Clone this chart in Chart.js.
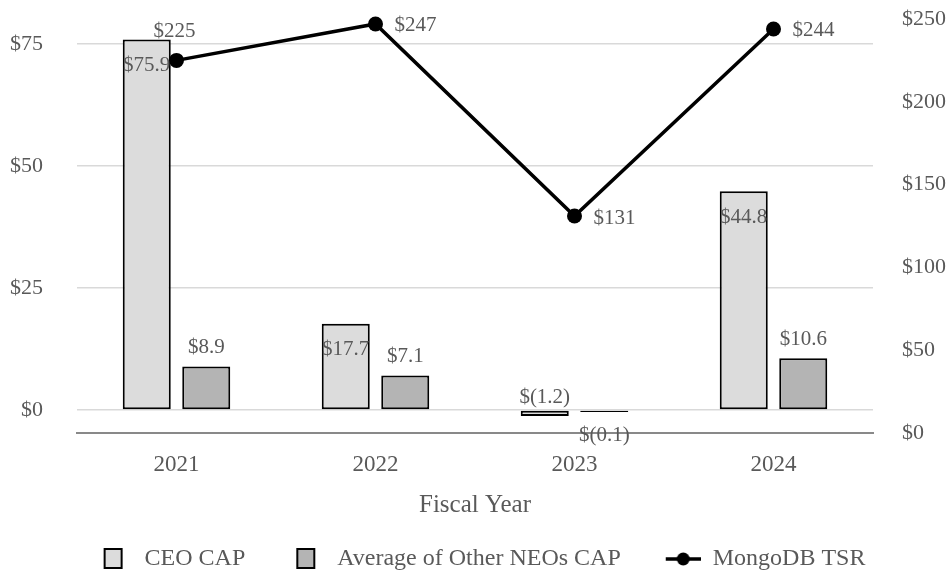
<!DOCTYPE html>
<html>
<head>
<meta charset="utf-8">
<script src="https://cdn.jsdelivr.net/npm/chart.js@4.4.1/dist/chart.umd.min.js"></script>
<style>
  html, body { margin: 0; padding: 0; background: #fff; }
</style>
</head>
<body>
<canvas id="chart" width="952" height="578"></canvas>
<script>
// data
const years = ['2021', '2022', '2023', '2024'];
const ceoCap = [75.9, 17.7, -1.2, 44.8];
const neoCap = [8.9, 7.1, -0.1, 10.6];
const tsr = [225, 247, 131, 244];
const leftTicks = [0, 25, 50, 75];
const rightTicks = [0, 50, 100, 150, 200, 250];
// where each TSR label sits relative to its point
const tsrLabelSide = ['top', 'right', 'right', 'right'];

const FONT = '"Liberation Serif", "Times New Roman", serif';
const TEXT = '#595959';

Chart.defaults.font.family = FONT;
Chart.defaults.font.size = 22;
Chart.defaults.color = TEXT;

function money(v, digits) {
    const s = Math.abs(v).toFixed(digits);
    return v < 0 ? '$(' + s + ')' : '$' + s;
}

// legend swatches, each one the full slot wide
function legendBox(fill) {
    const c = document.createElement('canvas');
    c.width = 56; c.height = 24;
    const g = c.getContext('2d');
    g.fillStyle = fill;
    g.fillRect(28, 2, 17, 19);
    g.strokeStyle = '#000';
    g.lineWidth = 2;
    g.strokeRect(28, 2, 17, 19);
    return c;
}
function legendLine() {
    const c = document.createElement('canvas');
    c.width = 56; c.height = 24;
    const g = c.getContext('2d');
    g.strokeStyle = '#000';
    g.lineWidth = 3.5;
    g.beginPath();
    g.moveTo(21, 12);
    g.lineTo(56, 12);
    g.stroke();
    g.fillStyle = '#000';
    g.beginPath();
    g.arc(38.5, 12, 6.5, 0, Math.PI * 2);
    g.fill();
    return c;
}
const swatches = [legendBox('#dcdcdc'), legendBox('#b4b4b4'), legendLine()];

const valueLabels = {
    id: 'valueLabels',
    afterLayout(chart) {
        // nudge the legend a little left, as in the picture
        chart.legend.left -= 5;
        chart.legend.right -= 5;
    },
    afterDatasetsDraw(chart) {
        const ctx = chart.ctx;
        ctx.save();
        ctx.font = '21px ' + FONT;
        ctx.fillStyle = TEXT;
        ctx.textBaseline = 'middle';
        ctx.textAlign = 'center';

        chart.getDatasetMeta(0).data.forEach((el, i) => {
            const v = ceoCap[i];
            const y = v >= 0 ? el.y + 26 : el.base - 13;
            ctx.fillText(money(v, 1), el.x, y);
        });
        chart.getDatasetMeta(1).data.forEach((el, i) => {
            const v = neoCap[i];
            const y = v >= 0 ? el.y - 19 : el.base + 25;
            ctx.fillText(money(v, 1), el.x, y);
        });
        chart.getDatasetMeta(2).data.forEach((el, i) => {
            const txt = money(tsr[i], 0);
            if (tsrLabelSide[i] === 'top') {
                ctx.textAlign = 'center';
                ctx.fillText(txt, el.x - 2, el.y - 29);
            } else {
                ctx.textAlign = 'left';
                ctx.fillText(txt, el.x + 19, el.y + 2);
            }
        });
        ctx.restore();
    }
};

const ctx = document.getElementById('chart').getContext('2d');

new Chart(ctx, {
    type: 'bar',
    data: {
        labels: years,
        datasets: [
            {
                label: 'CEO CAP',
                data: ceoCap,
                backgroundColor: '#dcdcdc',
                borderColor: '#000',
                borderWidth: 2,
                borderSkipped: false,
                yAxisID: 'y'
            },
            {
                label: 'Average of Other NEOs CAP',
                data: neoCap,
                backgroundColor: '#b4b4b4',
                borderColor: '#000',
                borderWidth: 2,
                borderSkipped: false,
                minBarLength: 2,
                yAxisID: 'y'
            },
            {
                type: 'line',
                label: 'MongoDB TSR',
                data: tsr,
                borderColor: '#000',
                backgroundColor: '#000',
                borderWidth: 3.5,
                pointRadius: 7.5,
                pointBackgroundColor: '#000',
                pointBorderWidth: 0,
                tension: 0,
                clip: false,
                yAxisID: 'y1',
                order: -1
            }
        ]
    },
    options: {
        responsive: false,
        animation: false,
        devicePixelRatio: 1,
        categoryPercentage: 0.598,
        barPercentage: 0.807,
        layout: {
            padding: { top: 19, left: 0, right: 0, bottom: -3 }
        },
        plugins: {
            tooltip: { enabled: false },
            legend: {
                position: 'bottom',
                labels: {
                    usePointStyle: true,
                    pointStyleWidth: 56,
                    padding: 24,
                    color: TEXT,
                    font: { size: 24 },
                    sort: (a, b) => a.datasetIndex - b.datasetIndex,
                    generateLabels(chart) {
                        const items = Chart.defaults.plugins.legend.labels.generateLabels(chart);
                        items.forEach(it => {
                            it.pointStyle = swatches[it.datasetIndex];
                        });
                        return items;
                    }
                }
            }
        },
        scales: {
            x: {
                afterFit: axis => { axis.height = 90; },
                grid: { display: false, drawTicks: false },
                border: { display: true, color: '#898989', width: 2 },
                ticks: { padding: 18, color: TEXT, font: { size: 23 } },
                title: {
                    display: true,
                    text: 'Fiscal Year',
                    color: TEXT,
                    font: { size: 25 },
                    padding: { top: 0, bottom: 3 }
                }
            },
            y: {
                position: 'left',
                min: -4.7,
                max: 80.1,
                afterBuildTicks: axis => { axis.ticks = leftTicks.map(v => ({ value: v })); },
                afterFit: axis => {
                    axis.width = 77;
                    axis.paddingTop = 0;
                    axis.paddingBottom = 0;
                },
                grid: { color: '#d9d9d9', lineWidth: 1.5, drawTicks: false },
                border: { display: false },
                ticks: {
                    padding: 34,
                    color: TEXT,
                    callback: v => '$' + v
                }
            },
            y1: {
                position: 'right',
                min: 0,
                max: 250,
                afterBuildTicks: axis => { axis.ticks = rightTicks.map(v => ({ value: v })); },
                afterFit: axis => {
                    axis.width = 79;
                    axis.paddingTop = 0;
                    axis.paddingBottom = 0;
                },
                grid: { display: false, drawTicks: false },
                border: { display: false },
                ticks: {
                    padding: 29,
                    color: TEXT,
                    callback: v => '$' + v
                }
            }
        }
    },
    plugins: [valueLabels]
});
</script>
</body>
</html>
